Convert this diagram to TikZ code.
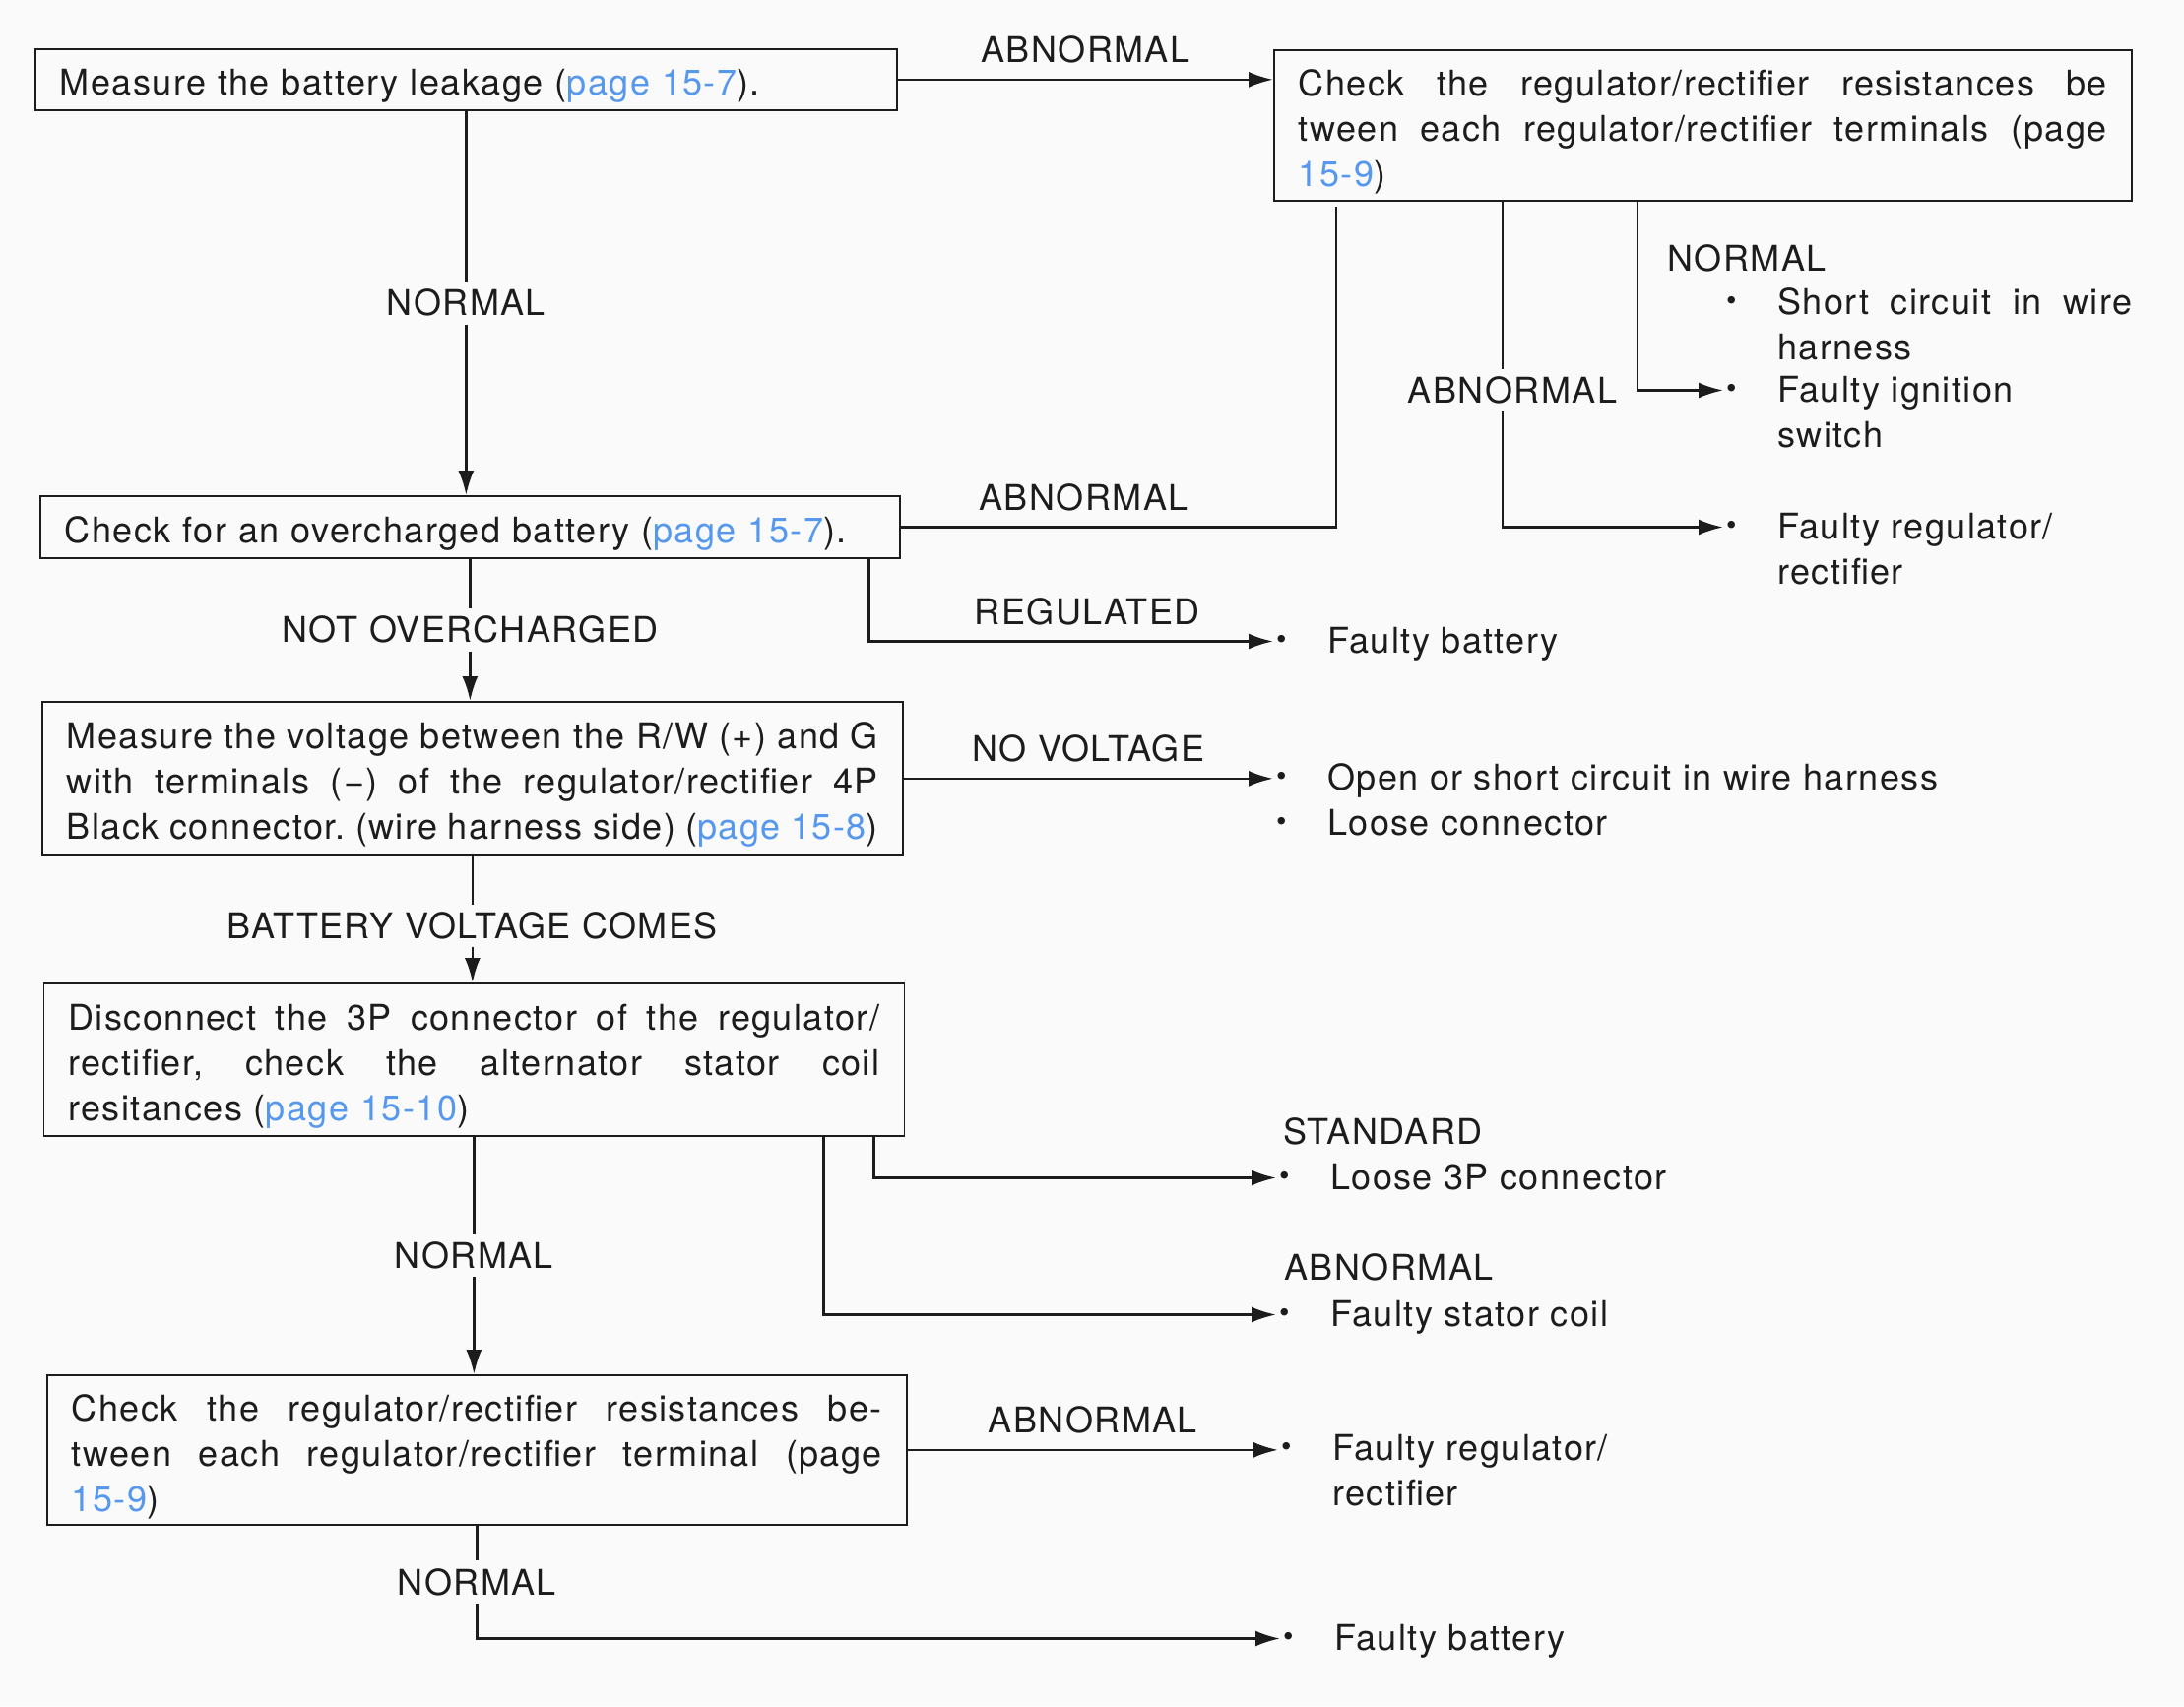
\documentclass[tikz,border=0pt]{standalone}
\usepackage{fontspec}
\setmainfont{TeX Gyre Heros}[LetterSpace=4]
\usetikzlibrary{positioning, arrows.meta}

\definecolor{paper}{RGB}{250,250,250}
\definecolor{ink}{RGB}{28,28,28}
\definecolor{pageblue}{RGB}{86,152,238}
\newcommand{\pg}[1]{\textcolor{pageblue}{#1}}
\newcommand{\jl}[2][824pt]{{\spaceskip=0pt\xspaceskip=0pt\makebox[#1][s]{#2}}}
\newcommand{\bul}{\makebox[55pt][l]{\hspace{3pt}\raisebox{4pt}{\fontsize{30}{30}\selectfont\textbullet}}}
\newcommand{\lines}[1]{\begin{tabular}[t]{@{}l@{}}#1\end{tabular}}
\frenchspacing

\begin{document}
\begin{tikzpicture}[x=1pt, y=-1pt, font=\fontsize{36}{46}\selectfont, color=ink,
    box/.style={draw=ink, line width=1.7pt, anchor=north west, inner xsep=25pt, inner ysep=0pt, align=left,
        execute at begin node={\rule{0pt}{40pt}}},
    arr/.style={line width=2.7pt, -{Latex[length=25pt,width=16pt]}},
    wire/.style={line width=2.7pt},
    cut/.style={fill=paper, inner xsep=4pt, inner ysep=8pt},
    lbl/.style={inner sep=0pt, anchor=base, yshift=17pt},
    res/.style={inner sep=0pt, anchor=base west}]
    \useasboundingbox (0,0) rectangle (2218,1733);
    \fill[paper] (0,0) rectangle (2218,1733);

    % Check boxes
    \node[box, text width=825pt, minimum height=62pt] (leak) at (35,49) {Measure the battery leakage (\pg{page 15-7}).};
    \node[box, text width=821pt, minimum height=153pt] (regres) at (1293,50) {\jl[821pt]{Check the regulator/rectifier resistances be}\\ \jl[821pt]{tween each regulator/rectifier terminals (page}\\ \pg{15-9})};
    \node[box, text width=823pt, minimum height=63pt] (ovc) at (40,503) {Check for an overcharged battery (\pg{page 15-7}).};
    \node[box, text width=824pt, minimum height=156pt] (volt) at (42,712) {\jl{Measure the voltage between the R/W (+) and G}\\ \jl{with terminals (−) of the regulator/rectifier 4P}\\ \jl{Black connector. (wire harness side) (\pg{page 15-8})}};
    \node[box, text width=824pt, minimum height=155pt] (coil) at (43.5,998) {\jl{Disconnect the 3P connector of the regulator/}\\ \jl{rectifier, check the alternator stator coil}\\ resitances (\pg{page 15-10})};
    \node[box, text width=823pt, minimum height=152pt] (regres2) at (47,1396) {\jl[823pt]{Check the regulator/rectifier resistances be-}\\ \jl[823pt]{tween each regulator/rectifier terminal (page}\\ \pg{15-9})};

    % Results
    \node[res] (shortc) at (1750,319.5) {\lines{\bul\makebox[360pt][s]{Short circuit in wire}\\ \hspace*{55pt}harness}};
    \node[res] (ign) at (1750,408.5) {\lines{\bul Faulty ignition\\ \hspace*{55pt}switch}};
    \node[res] (regfail1) at (1750,547.5) {\lines{\bul Faulty regulator/\\ \hspace*{55pt}rectifier}};
    \node[res] (batt1) at (1293,663.5) {\bul Faulty battery};
    \node[res] (openc) at (1293,802.5) {\lines{\bul Open or short circuit in wire harness\\ \bul Loose connector}};
    \node[res] (loose3p) at (1296,1208.5) {\bul Loose 3P connector};
    \node[res] (stator) at (1296,1347.5) {\bul Faulty stator coil};
    \node[res] (regfail2) at (1298,1483.5) {\lines{\bul Faulty regulator/\\ \hspace*{55pt}rectifier}};
    \node[res] (batt2) at (1300,1676.5) {\bul Faulty battery};

    % Taps on box bottoms
    \coordinate (r1a) at ([xshift=64pt]regres.south west);
    \coordinate (r1b) at ([xshift=233pt]regres.south west);
    \coordinate (r1c) at ([xshift=370pt]regres.south west);
    \coordinate (ovcr) at ([xshift=-32pt]ovc.south east);
    \coordinate (coilr) at ([xshift=-32pt]coil.south east);
    \coordinate (coils) at ([xshift=-83pt]coil.south east);

    % Draw edges
    \draw[arr] (leak.east) -- node[lbl, midway]{ABNORMAL} (leak.east -| regres.west);
    \draw[arr] (leak.south) -- node[cut, midway]{NORMAL} (leak.south |- ovc.north);
    \draw[wire, shorten >=5pt] (ovc.east) -| node[lbl, pos=0.21]{ABNORMAL} (r1a);
    \draw[arr] (r1b) |- node[cut, pos=0.29, xshift=10pt]{ABNORMAL} ([yshift=12pt]regfail1.base west);
    \draw[arr] (r1c) |- node[pos=0.15, anchor=west, xshift=29pt, inner sep=0pt]{NORMAL} ([yshift=12pt]ign.base west);
    \draw[arr] (ovc.south) -- node[cut, midway]{NOT OVERCHARGED} (ovc.south |- volt.north);
    \draw[arr] (ovcr) |- node[lbl, pos=0.77]{REGULATED} ([yshift=12pt]batt1.base west);
    \draw[arr] (volt.east) -- node[lbl, midway]{NO VOLTAGE} (volt.east -| openc.west);
    \draw[arr] (volt.south) -- node[cut, pos=0.55]{BATTERY VOLTAGE COMES} (volt.south |- coil.north);
    \draw[arr] (coilr) |- node[at end, anchor=base west, xshift=6pt, yshift=34pt, inner sep=0pt]{STANDARD} ([yshift=12pt]loose3p.base west);
    \draw[arr] (coils) |- node[at end, anchor=base west, xshift=7pt, yshift=35pt, inner sep=0pt]{ABNORMAL} ([yshift=12pt]stator.base west);
    \draw[arr] (coil.south) -- node[cut, midway]{NORMAL} (coil.south |- regres2.north);
    \draw[arr] (regres2.east) -- node[lbl, midway]{ABNORMAL} (regres2.east -| regfail2.west);
    \draw[arr] (regres2.south) |- node[cut, pos=0.25]{NORMAL} ([yshift=12pt]batt2.base west);
\end{tikzpicture}
\end{document}
